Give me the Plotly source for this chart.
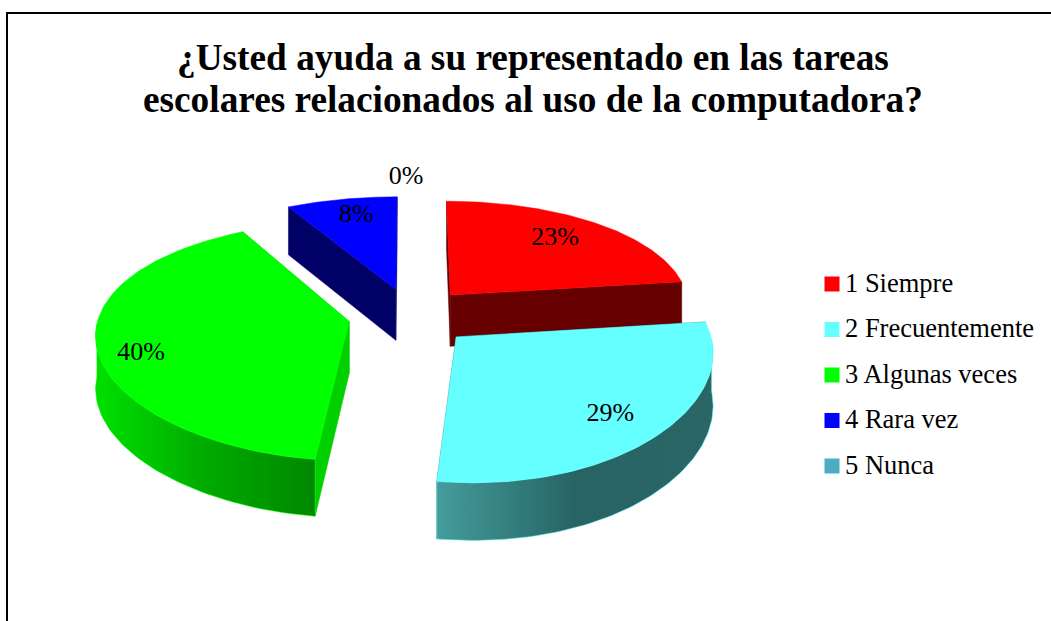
import math
import plotly.graph_objects as go

categories = ["1 Siempre", "2 Frecuentemente", "3 Algunas veces", "4 Rara vez", "5 Nunca"]
percent_values = [23, 29, 40, 8, 0]
title_lines = ["¿Usted ayuda a su representado en las tareas",
               "escolares relacionados al uso de la computadora?"]

top_colors = ["#FF0000", "#66FFFF", "#00FF00", "#0000FF", "#4BACC6"]
face_colors = ["#660000", "#2A6666", "#00D000", "#000066", "#2A6666"]
wall_gradients = [
    [(0, "#660000"), (1, "#660000")],
    [(0, "#459C9C"), (0.35, "#2F7575"), (0.5, "#286464"), (1, "#2A6666")],
    [(0, "#00E000"), (0.5, "#00AA00"), (1, "#008800")],
    [(0, "#000066"), (1, "#000066")],
    [(0, "#2A6666"), (1, "#2A6666")],
]

CX, CY, R, A, KY, KX, E, D, SKEW, PINCH = 411, 316, 250.5, 115, 0.16, 0.10, 0.25, 52, 7, 9
SERIF = "Liberation Serif"


def project(u, v, low=False):
    sy = 1 / (1 + KY * v)
    sx = 1 / (1 + KX * v)
    y = CY - A * v * sy
    if low:
        y += D * math.sqrt(sy)
    x = CX + R * u * sx + SKEW * max(0, -v) ** 3
    x -= PINCH * max(0, u) * min(1, max(0, v) / 0.2)
    return x, y


fig = go.Figure()

start = 0.0
slices = []
for i, pct in enumerate(percent_values):
    a0 = start / 100 * 2 * math.pi
    a1 = (start + pct) / 100 * 2 * math.pi
    mid = (a0 + a1) / 2
    du, dv = E * math.sin(mid), E * math.cos(mid)
    slices.append((i, a0, a1, mid, du, dv))
    start += pct


def arc(a0, a1, du, dv, n=90):
    return [(du + math.sin(a0 + (a1 - a0) * j / n), dv + math.cos(a0 + (a1 - a0) * j / n)) for j in range(n + 1)]


def poly(points, **kw):
    xs, ys = zip(*points)
    fig.add_trace(go.Scatter(x=list(xs) + [xs[0]], y=list(ys) + [ys[0]], mode="lines", fill="toself",
                             showlegend=False, hoverinfo="skip", **kw))


# Back slices first so that nearer slices overlap them
for i, a0, a1, mid, du, dv in [slices[j] for j in (3, 0, 2, 1)]:
    if percent_values[i] == 0:
        continue
    pts = arc(a0, a1, du, dv)
    apex = (du, dv)
    for end in (pts[0], pts[-1]):
        face = [project(*apex), project(*end), project(*end, low=True), project(*apex, low=True)]
        poly(face, fillcolor=face_colors[i], line=dict(color=face_colors[i], width=0.5))
    front = [p for p in pts if p[1] - dv < 0]
    if front:
        wall = [project(*p) for p in front] + [project(*p, low=True) for p in reversed(front)]
        poly(wall, fillcolor=face_colors[i],
             fillgradient=dict(type="horizontal", colorscale=wall_gradients[i]),
             line=dict(color=top_colors[i], width=0.5))
    top = [project(*apex)] + [project(*p) for p in pts]
    poly(top, fillcolor=top_colors[i], line=dict(color=top_colors[i], width=0.5))

# Percentage labels, placed relative to each slice's middle direction
label_radius = [0.75, 0.79, 0.84, 0.80, 1.26]
label_turn = [-1.7, 1, -7, 1.5, -1]
lx, ly, lt = [], [], []
for (i, a0, a1, mid, du, dv), r, turn in zip(slices, label_radius, label_turn):
    ang = mid + math.radians(turn)
    x, y = project(du + r * math.sin(ang), dv + r * math.cos(ang))
    lx.append(x)
    ly.append(y + 1)
    lt.append(f"{percent_values[i]}%")
fig.add_trace(go.Scatter(x=lx, y=ly, text=lt, mode="text", showlegend=False, hoverinfo="skip",
                         textfont=dict(family=SERIF, size=26, color="#000000")))

# Legend rows
LEG_X, LEG_Y, LEG_STEP = 832, 284, 45.5
for n, (name, col) in enumerate(zip(categories, top_colors)):
    fig.add_trace(go.Scatter(x=[LEG_X], y=[LEG_Y + n * LEG_STEP], mode="markers", name=name,
                             showlegend=False, hoverinfo="name",
                             marker=dict(symbol="square", size=15, color=col)))
    fig.add_trace(go.Scatter(x=[LEG_X + 13], y=[LEG_Y + n * LEG_STEP + 1], mode="text", text=[name],
                             textposition="middle right", showlegend=False, hoverinfo="skip",
                             textfont=dict(family=SERIF, size=26.5, color="#000000")))

fig.update_layout(
    width=1051, height=621, margin=dict(l=0, r=0, t=0, b=0),
    paper_bgcolor="white", plot_bgcolor="white", showlegend=False,
    xaxis=dict(range=[0, 1051], visible=False, fixedrange=True),
    yaxis=dict(range=[621, 0], visible=False, fixedrange=True),
    annotations=[dict(text="<b>" + line + "</b>", x=533, y=y, xref="x", yref="y", showarrow=False,
                      font=dict(family=SERIF, size=37.3, color="#000000"))
                 for line, y in zip(title_lines, (57, 99))],
    shapes=[dict(type="line", xref="x", yref="y", x0=6, x1=1051, y0=13, y1=13, line=dict(color="black", width=2)),
            dict(type="line", xref="x", yref="y", x0=7, x1=7, y0=13, y1=621, line=dict(color="black", width=2))],
)
fig.write_html("out.html", config=dict(displayModeBar=False),
               post_script="document.body.style.margin='0';document.documentElement.style.overflow='hidden';")
